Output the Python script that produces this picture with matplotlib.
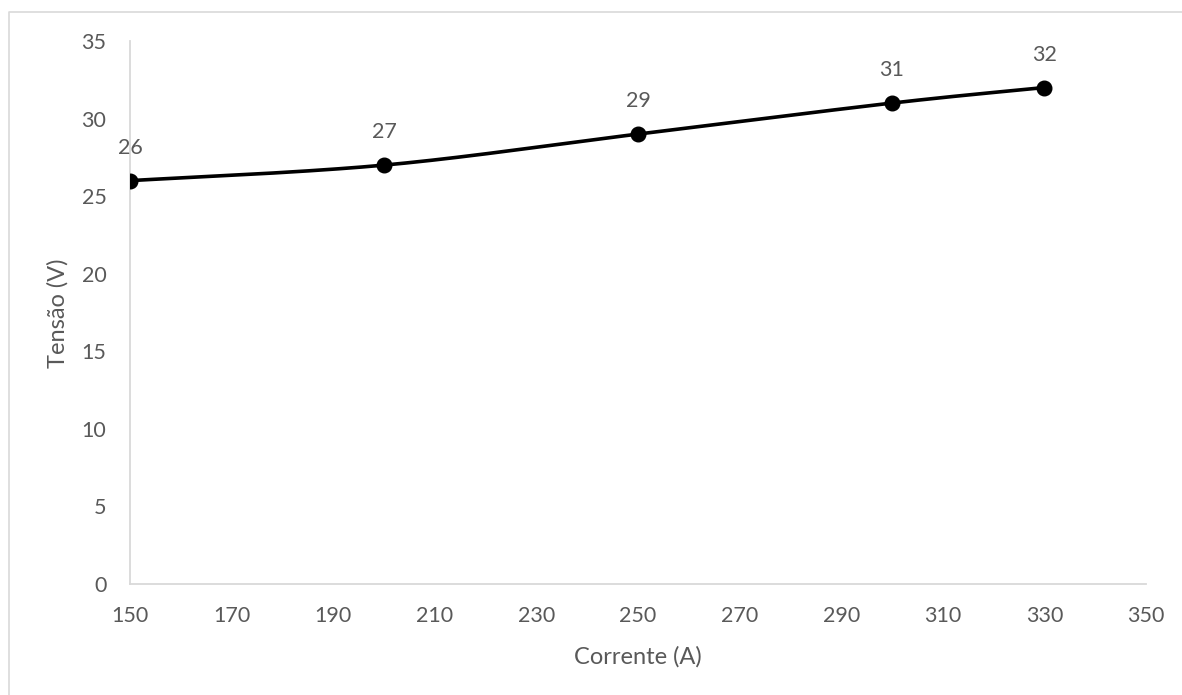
import numpy as np
import matplotlib
matplotlib.use("Agg")
import matplotlib.pyplot as plt
from matplotlib.lines import Line2D

# Data: welding current vs arc voltage
corrente = [150, 200, 250, 300, 330]
tensao = [26, 27, 29, 31, 32]

x_ticks = [150, 170, 190, 210, 230, 250, 270, 290, 310, 330, 350]
y_ticks = [0, 5, 10, 15, 20, 25, 30, 35]

TEXT = "#595959"
AXIS = "#D9D9D9"
FONT = "Lato"


def smooth_curve(xs, ys, n=60):
    """Cardinal-spline (Bezier) smoothing through the given points."""
    p = np.column_stack([xs, ys]).astype(float)
    out = []
    for i in range(len(p) - 1):
        p0 = p[i - 1] if i > 0 else p[i]
        p1 = p[i]
        p2 = p[i + 1]
        p3 = p[i + 2] if i + 2 < len(p) else p[i + 1]
        c1 = p1 + (p2 - p0) / 6.0
        c2 = p2 - (p3 - p1) / 6.0
        t = np.linspace(0, 1, n)[:, None]
        seg = ((1 - t) ** 3) * p1 + 3 * ((1 - t) ** 2) * t * c1 \
            + 3 * (1 - t) * t ** 2 * c2 + t ** 3 * p2
        out.append(seg if i == 0 else seg[1:])
    s = np.vstack(out)
    return s[:, 0], s[:, 1]


W, H = 1182, 695
fig = plt.figure(figsize=(W / 100, H / 100), dpi=100)
ax = fig.add_axes([130 / W, 1 - 584 / H, (1146 - 130) / W, (584 - 41) / H])

sx, sy = smooth_curve(corrente, tensao)
ax.plot(sx, sy, color="black", lw=2.6, solid_capstyle="round", zorder=3)
ax.plot(corrente, tensao, "o", color="black", ms=10.5, zorder=4)

for xv, yv in zip(corrente, tensao):
    ax.annotate(f"{yv}", (xv, yv), xytext=(0, 23.5), textcoords="offset points",
                ha="center", va="center", fontsize=15.5, color=TEXT,
                family=FONT)

ax.set_xlim(150, 350)
ax.set_ylim(0, 35)
ax.set_xticks(x_ticks)
ax.set_yticks(y_ticks)
ax.tick_params(length=0, labelsize=15.5, labelcolor=TEXT)
ax.tick_params(axis="x", pad=16)
ax.tick_params(axis="y", pad=17)
for lab in ax.get_xticklabels() + ax.get_yticklabels():
    lab.set_family(FONT)

for side in ("top", "right"):
    ax.spines[side].set_visible(False)
for side in ("left", "bottom"):
    ax.spines[side].set_color(AXIS)
    ax.spines[side].set_linewidth(1.3)

fig.text(638 / W, 1 - 657 / H, "Corrente (A)", ha="center", va="center",
         fontsize=17, color=TEXT, family=FONT)
fig.text(58 / W, 1 - 313 / H, "Tensão (V)", ha="center", va="center",
         rotation=90, fontsize=17, color=TEXT, family=FONT)

# chart area frame (left and top edges)
fig.add_artist(Line2D([8.5 / W, 8.5 / W, 1.01], [-0.01, 1 - 11.5 / H, 1 - 11.5 / H],
                      transform=fig.transFigure, color=AXIS, lw=1.2))

fig.savefig("out.png", dpi=100, facecolor="white")
